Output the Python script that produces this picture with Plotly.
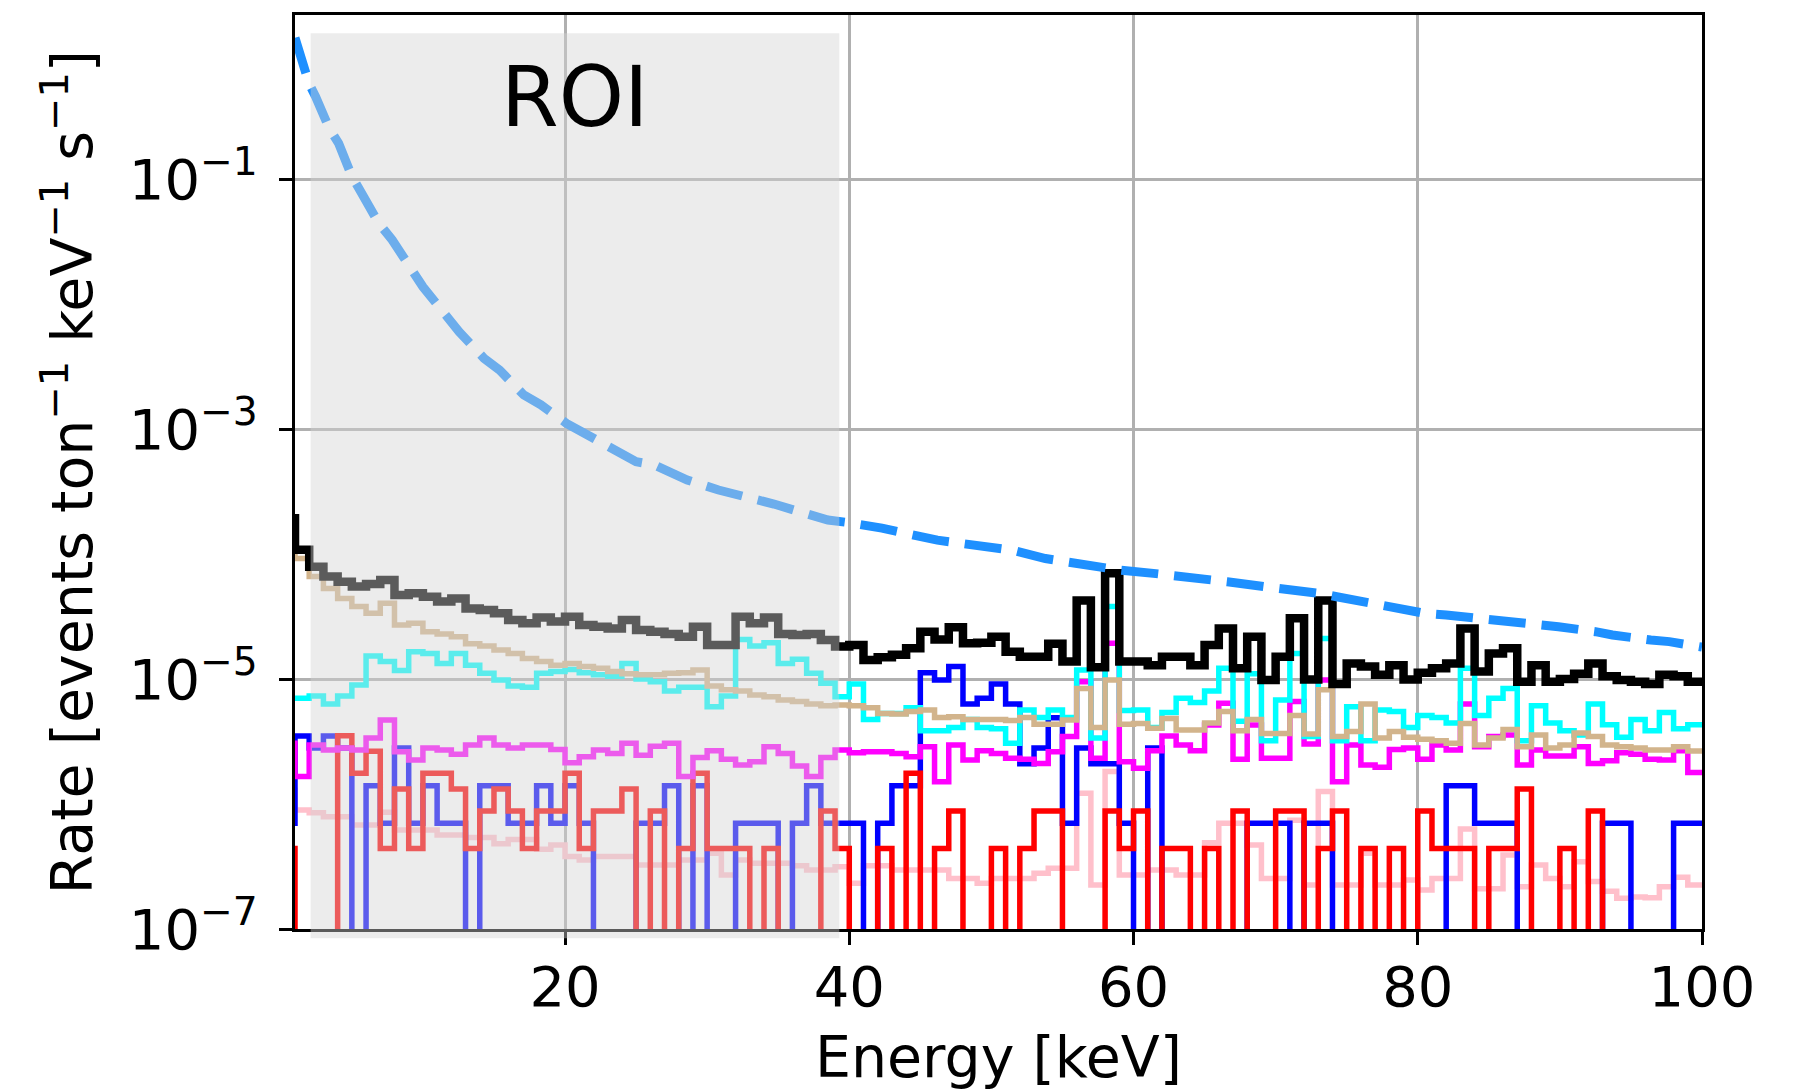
import numpy as np
import plotly.graph_objects as go

# 1 keV bins: [0,1), [1,2), ..., [99,100]
bin_edges = np.arange(0, 101)

# Total background rate per bin [events / (ton keV s)]
total_rate = [
    1.93e-4, 1.08e-4, 7.9e-5, 6.6e-5, 6.0e-5, 5.5e-5, 5.75e-5, 6.2e-5, 4.7e-5, 4.85e-5,
    4.56e-5, 4.16e-5, 4.4e-5, 3.67e-5, 3.56e-5, 3.35e-5, 2.96e-5, 2.79e-5, 3.11e-5, 2.88e-5,
    3.15e-5, 2.71e-5, 2.62e-5, 2.54e-5, 2.96e-5, 2.47e-5, 2.39e-5, 2.29e-5, 2.18e-5, 2.62e-5,
    1.87e-5, 1.87e-5, 3.15e-5, 2.79e-5, 3.1e-5, 2.29e-5, 2.25e-5, 2.29e-5, 2.05e-5, 1.82e-5,
    1.87e-5, 1.42e-5, 1.49e-5, 1.56e-5, 1.76e-5, 2.39e-5, 2.07e-5, 2.59e-5, 1.93e-5, 1.95e-5,
    2.18e-5, 1.65e-5, 1.51e-5, 1.51e-5, 1.91e-5, 1.38e-5, 4.24e-5, 1.24e-5, 7.0e-5, 1.38e-5,
    1.38e-5, 1.29e-5, 1.51e-5, 1.51e-5, 1.29e-5, 1.87e-5, 2.54e-5, 1.22e-5, 2.18e-5, 9.8e-6,
    1.51e-5, 3.06e-5, 9.9e-6, 4.24e-5, 9.1e-6, 1.33e-5, 1.26e-5, 1.08e-5, 1.29e-5, 9.9e-6,
    1.12e-5, 1.22e-5, 1.33e-5, 2.54e-5, 1.15e-5, 1.6e-5, 1.76e-5, 9.5e-6, 1.29e-5, 9.5e-6,
    1.0e-5, 1.1e-5, 1.33e-5, 1.05e-5, 9.8e-6, 9.5e-6, 9.1e-6, 1.08e-5, 1.05e-5, 9.5e-6,
]

tan_rate = [
    1.15e-4, 9.2e-5, 6.6e-5, 5.3e-5, 4.4e-5, 3.8e-5, 3.35e-5, 4.03e-5, 2.71e-5, 2.79e-5,
    2.39e-5, 2.29e-5, 2.18e-5, 1.91e-5, 1.84e-5, 1.71e-5, 1.6e-5, 1.46e-5, 1.38e-5, 1.29e-5,
    1.33e-5, 1.26e-5, 1.22e-5, 1.15e-5, 1.1e-5, 1.08e-5, 1.08e-5, 1.11e-5, 1.12e-5, 1.18e-5,
    8.8e-6, 8.2e-6, 8.0e-6, 7.45e-6, 7.2e-6, 6.8e-6, 6.6e-6, 6.3e-6, 6.1e-6, 6.2e-6,
    6.1e-6, 5.9e-6, 5.3e-6, 5.25e-6, 5.5e-6, 5.65e-6, 4.93e-6, 5.0e-6, 4.75e-6, 4.75e-6,
    4.75e-6, 4.65e-6, 4.93e-6, 4.34e-6, 4.34e-6, 4.7e-6, 8.4e-6, 4.1e-6, 9.8e-6, 4.35e-6,
    4.4e-6, 4.03e-6, 4.84e-6, 3.9e-6, 3.9e-6, 4.45e-6, 5.5e-6, 3.85e-6, 4.75e-6, 3.67e-6,
    3.67e-6, 5.1e-6, 3.63e-6, 8.2e-6, 3.46e-6, 3.8e-6, 6.3e-6, 3.37e-6, 3.8e-6, 3.42e-6,
    3.29e-6, 3.2e-6, 3.06e-6, 4.4e-6, 2.97e-6, 3.37e-6, 3.95e-6, 2.87e-6, 3.56e-6, 2.8e-6,
    2.97e-6, 3.7e-6, 3.46e-6, 2.97e-6, 2.87e-6, 2.8e-6, 2.7e-6, 2.7e-6, 2.87e-6, 2.65e-6,
]

cyan_rate = [
    7.0e-6, 7.0e-6, 7.3e-6, 6.3e-6, 7.3e-6, 8.95e-6, 1.53e-5, 1.38e-5, 1.17e-5, 1.65e-5,
    1.6e-5, 1.33e-5, 1.6e-5, 1.29e-5, 1.11e-5, 9.8e-6, 8.8e-6, 8.6e-6, 1.11e-5, 1.15e-5,
    1.19e-5, 1.12e-5, 1.08e-5, 1.05e-5, 1.33e-5, 1.0e-5, 9.5e-6, 8.0e-6, 8.6e-6, 8.6e-6,
    6.0e-6, 7.3e-6, 2.07e-5, 1.84e-5, 1.95e-5, 1.33e-5, 1.44e-5, 1.11e-5, 9.25e-6, 7.2e-6,
    9.1e-6, 4.75e-6, 5.3e-6, 5.3e-6, 5.9e-6, 3.85e-6, 3.85e-6, 4.1e-6, 4.75e-6, 4.1e-6,
    4.0e-6, 3.06e-6, 5.65e-6, 4.93e-6, 5.65e-6, 4.93e-6, 1.18e-5, 3.37e-6, 3.8e-5, 5.6e-6,
    5.65e-6, 4.1e-6, 5.4e-6, 7.0e-6, 6.5e-6, 8.0e-6, 1.22e-5, 4.6e-6, 1.1e-5, 3.2e-6,
    6.8e-6, 1.6e-5, 3.46e-6, 2.11e-5, 3.2e-6, 6.0e-6, 3.2e-6, 5.65e-6, 5.5e-6, 4.1e-6,
    5.1e-6, 4.93e-6, 4.45e-6, 1.22e-5, 5.1e-6, 7.0e-6, 8.4e-6, 3.2e-6, 6.1e-6, 4.45e-6,
    3.85e-6, 3.56e-6, 6.3e-6, 4.3e-6, 3.42e-6, 4.75e-6, 3.85e-6, 5.4e-6, 4.0e-6, 4.3e-6,
]

magenta_rate = [
    3.06e-6, 1.66e-6, 2.96e-6, 2.7e-6, 2.8e-6, 2.7e-6, 3.37e-6, 4.7e-6, 2.62e-6, 2.25e-6,
    2.8e-6, 2.7e-6, 2.5e-6, 2.96e-6, 3.37e-6, 2.96e-6, 2.8e-6, 2.96e-6, 2.96e-6, 2.73e-6,
    2.14e-6, 2.39e-6, 2.7e-6, 2.54e-6, 3.06e-6, 2.46e-6, 2.9e-6, 3.06e-6, 1.66e-6, 2.36e-6,
    2.67e-6, 2.28e-6, 2.05e-6, 2.18e-6, 2.87e-6, 2.54e-6, 2.01e-6, 1.66e-6, 2.36e-6, 2.7e-6,
    2.57e-6, 2.62e-6, 2.62e-6, 2.54e-6, 2.39e-6, 2.87e-6, 1.51e-6, 2.96e-6, 2.25e-6, 2.67e-6,
    2.54e-6, 2.32e-6, 2.28e-6, 2.11e-6, 2.62e-6, 3.46e-6, 9.5e-6, 2.32e-6, 1.93e-5, 2.18e-6,
    1.93e-6, 2.67e-6, 3.5e-6, 2.96e-6, 2.67e-6, 4.28e-6, 6.4e-6, 2.28e-6, 4.28e-6, 2.32e-6,
    2.32e-6, 6.6e-6, 3.02e-6, 9.8e-6, 1.51e-6, 2.96e-6, 2.05e-6, 1.97e-6, 2.73e-6, 2.8e-6,
    2.28e-6, 2.96e-6, 2.7e-6, 6.3e-6, 2.87e-6, 3.46e-6, 3.56e-6, 2.05e-6, 2.7e-6, 2.42e-6,
    2.42e-6, 2.87e-6, 2.11e-6, 2.22e-6, 2.57e-6, 2.5e-6, 2.28e-6, 2.25e-6, 2.67e-6, 1.79e-6,
]

blue_rate = [
    7.0e-7, 3.5e-6, 2.8e-6, 3.5e-6, 2.8e-6, 0.0, 1.4e-6, 7.0e-7, 2.8e-6, 7.0e-7,
    1.4e-6, 7.0e-7, 7.0e-7, 0.0, 1.4e-6, 1.4e-6, 7.0e-7, 7.0e-7, 1.4e-6, 7.0e-7,
    1.4e-6, 7.0e-7, 0.0, 0.0, 0.0, 7.0e-7, 7.0e-7, 1.4e-6, 0.0, 1.4e-6,
    0.0, 0.0, 7.0e-7, 7.0e-7, 7.0e-7, 0.0, 7.0e-7, 1.4e-6, 7.0e-7, 7.0e-7,
    7.0e-7, 0.0, 7.0e-7, 1.4e-6, 1.4e-6, 1.12e-5, 9.8e-6, 1.26e-5, 6.3e-6, 7.0e-6,
    9.1e-6, 6.3e-6, 2.1e-6, 2.8e-6, 4.9e-6, 7.0e-7, 2.8e-6, 2.1e-6, 2.1e-6, 7.0e-7,
    0.0, 2.8e-6, 0.0, 0.0, 0.0, 0.0, 0.0, 0.0, 7.0e-7, 7.0e-7,
    7.0e-7, 0.0, 7.0e-7, 7.0e-7, 0.0, 0.0, 0.0, 0.0, 0.0, 0.0,
    0.0, 0.0, 1.4e-6, 1.4e-6, 7.0e-7, 7.0e-7, 7.0e-7, 0.0, 0.0, 0.0,
    0.0, 0.0, 0.0, 7.0e-7, 7.0e-7, 0.0, 0.0, 0.0, 7.0e-7, 7.0e-7,
]

red_rate = [
    4.4e-7, 0.0, 0.0, 0.0, 3.52e-6, 1.76e-6, 2.64e-6, 4.4e-7, 1.32e-6, 4.4e-7,
    1.76e-6, 1.76e-6, 1.32e-6, 4.4e-7, 8.8e-7, 1.32e-6, 8.8e-7, 4.4e-7, 8.8e-7, 8.8e-7,
    1.76e-6, 4.4e-7, 8.8e-7, 8.8e-7, 1.32e-6, 0.0, 8.8e-7, 0.0, 4.4e-7, 1.76e-6,
    4.4e-7, 4.4e-7, 4.4e-7, 0.0, 4.4e-7, 0.0, 0.0, 0.0, 8.8e-7, 4.4e-7,
    0.0, 0.0, 4.4e-7, 0.0, 1.76e-6, 0.0, 4.4e-7, 8.8e-7, 0.0, 0.0,
    4.4e-7, 0.0, 4.4e-7, 8.8e-7, 8.8e-7, 0.0, 0.0, 0.0, 8.8e-7, 4.4e-7,
    8.8e-7, 0.0, 4.4e-7, 4.4e-7, 0.0, 4.4e-7, 0.0, 8.8e-7, 0.0, 0.0,
    8.8e-7, 8.8e-7, 0.0, 4.4e-7, 8.8e-7, 0.0, 4.4e-7, 0.0, 4.4e-7, 0.0,
    8.8e-7, 4.4e-7, 4.4e-7, 4.4e-7, 0.0, 4.4e-7, 4.4e-7, 1.32e-6, 0.0, 0.0,
    4.4e-7, 0.0, 8.8e-7, 0.0, 0.0, 0.0, 0.0, 0.0, 0.0, 0.0,
]

pink_rate = [
    1.29e-6, 8.95e-7, 8.5e-7, 7.9e-7, 7.9e-7, 6.8e-7, 6.8e-7, 8.6e-7, 6.2e-7, 6.2e-7,
    6.2e-7, 5.65e-7, 5.65e-7, 5.4e-7, 5.4e-7, 4.8e-7, 5.2e-7, 5.2e-7, 4.34e-7, 4.7e-7,
    3.8e-7, 3.56e-7, 3.8e-7, 3.8e-7, 3.8e-7, 3.25e-7, 3.25e-7, 3.25e-7, 3.56e-7, 3.56e-7,
    4.03e-7, 2.7e-7, 3.56e-7, 3.35e-7, 3.35e-7, 3.35e-7, 3.2e-7, 2.96e-7, 2.96e-7, 3.15e-7,
    2.32e-7, 3.2e-7, 3.2e-7, 2.96e-7, 2.96e-7, 2.96e-7, 2.96e-7, 2.54e-7, 2.54e-7, 2.32e-7,
    2.54e-7, 2.54e-7, 2.54e-7, 2.79e-7, 3.06e-7, 3.06e-7, 1.22e-6, 2.25e-7, 1.82e-6, 2.7e-7,
    2.7e-7, 2.96e-7, 2.96e-7, 2.7e-7, 2.7e-7, 4.9e-7, 7.0e-7, 7.0e-7, 4.7e-7, 2.54e-7,
    2.54e-7, 7.4e-7, 2.25e-7, 1.26e-6, 2.25e-7, 2.25e-7, 4.03e-7, 2.25e-7, 2.25e-7, 2.47e-7,
    2.05e-7, 2.54e-7, 2.54e-7, 6.3e-7, 2.1e-7, 2.1e-7, 3.9e-7, 2.18e-7, 3.25e-7, 2.54e-7,
    2.18e-7, 3.45e-7, 2.4e-7, 2.0e-7, 1.76e-7, 1.8e-7, 1.78e-7, 2.18e-7, 2.6e-7, 2.25e-7,
]

# Expected signal spectrum (dashed curve)
signal_energy = [
    1.0, 2.0, 2.45, 3.4, 4.07, 5.0, 5.7, 6.9, 7.84, 9.3, 10.0, 11.6, 12.55, 14.3, 15.4,
    17.1, 18.3, 20.1, 21.6, 23.7, 25.0, 26.3, 28.6, 30.8, 32.4, 34.7, 36.1, 38.5, 40.0,
    42.3, 46.2, 47.5, 50.1, 51.5, 53.8, 55.0, 57.6, 59.0, 61.4, 62.7, 65.4, 66.6, 69.3,
    70.6, 73.1, 74.3, 77.0, 78.3, 80.5, 82.0, 84.7, 86.0, 88.6, 89.9, 92.5, 93.7, 96.4,
    97.7, 100.0,
]
signal_rate = [
    1.35, 0.575, 0.455, 0.255, 0.193, 0.105, 0.0767, 0.0442, 0.0325, 0.0187, 0.01374,
    0.00817, 0.0060, 0.00368, 0.00296, 0.00187, 0.00156, 0.00111, 8.95e-4, 6.4e-4,
    5.47e-4, 5.15e-4, 3.91e-4, 3.25e-4, 2.96e-4, 2.51e-4, 2.25e-4, 1.87e-4, 1.78e-4,
    1.61e-4, 1.29e-4, 1.24e-4, 1.11e-4, 1.07e-4, 9.2e-5, 8.7e-5, 7.7e-5, 7.45e-5,
    7.0e-5, 6.8e-5, 6.2e-5, 6.0e-5, 5.47e-5, 5.3e-5, 4.84e-5, 4.55e-5, 3.91e-5, 3.67e-5,
    3.35e-5, 3.25e-5, 3.05e-5, 2.96e-5, 2.75e-5, 2.62e-5, 2.39e-5, 2.25e-5, 2.05e-5,
    1.99e-5, 1.8e-5,
]

# Region of interest [keV]
roi_low_kev = 2.1
roi_high_kev = 39.3

y_tick_values = [1e-7, 1e-5, 1e-3, 1e-1]
y_tick_text = ["10<sup>−7</sup>", "10<sup>−5</sup>", "10<sup>−3</sup>", "10<sup>−1</sup>"]
x_tick_values = [20, 40, 60, 80, 100]

FONT = "DejaVu Sans"


def step_trace(values, color, width, name):
    v = np.asarray(values, dtype=float)
    # empty bins drop off the bottom of the log axis, like a step histogram
    v = np.where(v > 0, v, 1e-12)
    y = np.append(v, v[-1])
    return go.Scatter(
        x=bin_edges, y=y, mode="lines", name=name, showlegend=False,
        line=dict(color=color, width=width, shape="hv"),
        hoverinfo="skip",
    )


fig = go.Figure()
fig.add_trace(step_trace(pink_rate, "#FFC0CB", 5.5, "pink"))
fig.add_trace(step_trace(blue_rate, "#0000FF", 5.5, "blue"))
fig.add_trace(step_trace(red_rate, "#FF0000", 5.5, "red"))
fig.add_trace(step_trace(magenta_rate, "#FF00FF", 5.5, "magenta"))
fig.add_trace(step_trace(cyan_rate, "#00FFFF", 5.5, "cyan"))
fig.add_trace(step_trace(tan_rate, "#D2B48C", 5.5, "tan"))
fig.add_trace(step_trace(total_rate, "#000000", 8.5, "total"))
fig.add_trace(go.Scatter(
    x=signal_energy, y=signal_rate, mode="lines", name="signal", showlegend=False,
    line=dict(color="#1E90FF", width=9, dash="37px,16px"),
))

# ROI band, drawn over the histograms
fig.add_shape(
    type="rect", xref="x", yref="y domain",
    x0=roi_low_kev, x1=roi_high_kev, y0=-0.01, y1=0.98,
    fillcolor="#D3D3D3", opacity=0.43, line_width=0, layer="above",
)
fig.add_annotation(
    x=(roi_low_kev + roi_high_kev) / 2, xref="x", y=0.91, yref="y domain",
    text="ROI", showarrow=False, font=dict(family=FONT, size=83, color="black"),
    xanchor="center", yanchor="middle",
)

axis_common = dict(
    showline=True, linecolor="black", linewidth=3, mirror=True,
    ticks="outside", ticklen=13, tickwidth=3, tickcolor="black",
    showgrid=True, gridcolor="#b0b0b0", gridwidth=2.5,
    zeroline=False,
    tickfont=dict(family=FONT, size=56, color="black"),
)

fig.update_xaxes(
    range=[1, 100], tickvals=x_tick_values,
    title=dict(text="Energy [keV]", font=dict(family=FONT, size=57, color="black"), standoff=26),
    ticklabelstandoff=-6,
    **axis_common,
)
fig.update_yaxes(
    type="log", range=[-7, 0.312], tickvals=y_tick_values, ticktext=y_tick_text,
    title=dict(text="Rate [events ton<sup>−1</sup> keV<sup>−1</sup> s<sup>−1</sup>]",
               font=dict(family=FONT, size=57, color="black"), standoff=18),
    ticklabelstandoff=10,
    **axis_common,
)

fig.update_layout(
    width=1808, height=1090,
    margin=dict(l=295, r=106, t=15, b=161, autoexpand=False),
    paper_bgcolor="white", plot_bgcolor="white",
    font=dict(family=FONT, color="black"),
    showlegend=False,
)

fig.write_html("out.html")
